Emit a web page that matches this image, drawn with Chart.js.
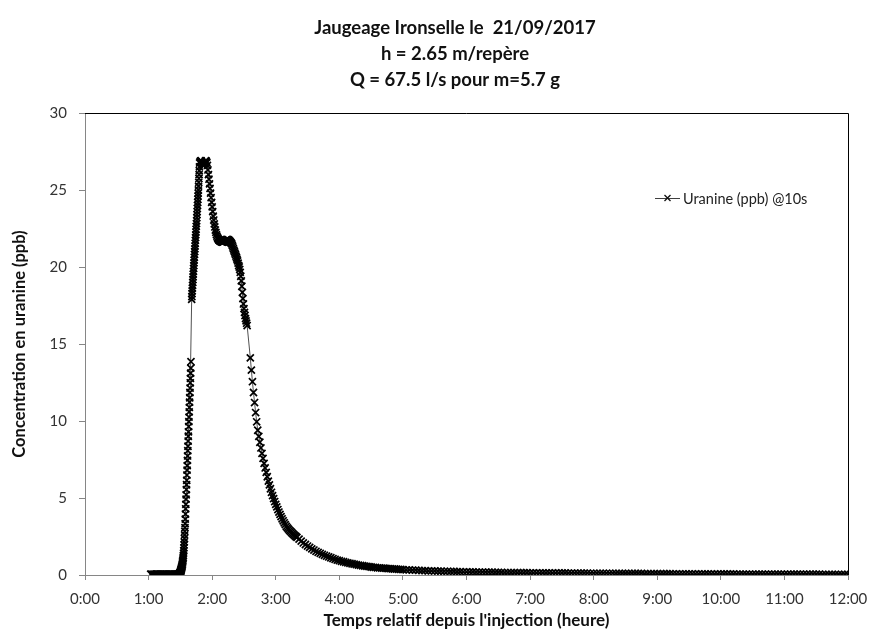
<!DOCTYPE html>
<html>
<head>
<meta charset="utf-8">
<script src="https://cdn.jsdelivr.net/npm/chart.js@4.4.1/dist/chart.umd.min.js"></script>
<style>
  html, body { margin: 0; padding: 0; background: #fff; }
  #wrap { width: 871px; height: 633px; }
</style>
</head>
<body>
<div id="wrap"><canvas id="uranineChart" width="871" height="633"></canvas></div>
<script>
// ----------------- DATA (minutes since injection, ppb) -----------------
const titleLines = ["Jaugeage Ironselle le  21/09/2017", "h = 2.65 m/repère", "Q = 67.5 l/s pour m=5.7 g"];
const seriesLabel = "Uranine (ppb) @10s";
const hourTicks = [0, 60, 120, 180, 240, 300, 360, 420, 480, 540, 600, 660, 720];

// baseline before arrival, 1 min
const baselineStart = 62, baselineStep = 1;
const baselineValues = [0.05,0.05,0.04,0.05,0.05,0.06,0.05,0.05,0.04,0.05,0.05,0.05,0.06,0.05,
  0.05,0.05,0.04,0.05,0.05,0.05,0.06,0.05,0.05,0.05,0.06,0.06,0.07];

// rising limb, 10 s
const riseStart = 89, riseStep = 1 / 6;
const riseValues = [0.08,0.09,0.10,0.12,0.14,0.16,0.19,0.22,0.26,0.30,0.34,0.38,0.43,0.48,0.53,
  0.58,0.64,0.70,0.78,0.86,0.95,1.05,1.15,1.27,1.42,1.58,1.76,1.95,2.15,2.37,2.60,2.84,3.08,3.34,
  3.63,3.96,4.30,4.59,4.93,5.21,5.55,5.86,6.15,6.49,6.81,7.10,7.44,7.73,8.07,8.36,8.70,9.01,9.30,
  9.64,9.96,10.25,10.59,10.88,11.22,11.51,11.85,12.14,12.48,12.77,13.11,13.43,13.85];

// after the first gap, up to the peak, 10 s
const peakRiseStart = 100 + 40 / 60, peakRiseStep = 1 / 6;
const peakRiseValues = [17.90,18.08,18.27,18.45,18.63,18.81,19.00,19.18,19.36,19.54,19.72,19.91,
  20.09,20.27,20.45,20.63,20.82,21.00,21.18,21.36,21.54,21.73,21.91,22.09,22.27,22.45,22.64,22.82,
  23.00,23.20,23.40,23.60,23.80,24.00,24.20,24.40,24.60,24.80,25.00,25.25,25.50,25.75,26.00,26.25,
  26.50,26.75];

// peak and plateau, 30 s
const peakStart = 108.5, peakStep = 0.5;
const peakValues = [26.82,26.88,26.90,26.86,26.76,26.66,26.60,26.62,26.70,26.80,26.87,26.90,26.86,
  26.78,26.60,26.30,26.00,25.70,25.40,25.10,24.80,24.50,24.20,23.90,23.60,23.30,23.05,22.80,22.60,
  22.40,22.25,22.10,22.00,21.90,21.84,21.78,21.74,21.71,21.69,21.67,21.65,21.63,21.62,21.62,21.63,
  21.65,21.68,21.70,21.72,21.75,21.77,21.78,21.78,21.77,21.75,21.72,21.68,21.65,21.60,21.55,21.50,
  21.40,21.30,21.20,21.10,21.00,20.90,20.80,20.70,20.60,20.50,20.40,20.25,20.10,20.00,19.85,19.65,
  19.40,19.10,18.75,18.35,17.95,17.60,17.30,17.05,16.85,16.65,16.50,16.35,16.20];

// falling limb after the second gap, 1 min
const declineStart = 156, declineStep = 1;
const declineValues = [14.10,13.30,12.55,11.85,11.20,10.55,9.95,9.40,9.00,8.62,8.25,7.90,7.57,7.25,
  6.95,6.66,6.38,6.10,5.85,5.60,5.37,5.15,4.96,4.77,4.59,4.42,4.25,4.09,3.94,3.79,3.65,3.52,3.39,
  3.27,3.15,3.06,2.98,2.90,2.83,2.76,2.69,2.62,2.56,2.50,2.44];

// recession, 2 min
const recessionStart = 202, recessionStep = 2;
const recessionValues = [2.33,2.20,2.08,1.98,1.88,1.79,1.70,1.62,1.54,1.47,1.40,1.34,1.28,1.22,
  1.17,1.12,1.07,1.02,0.97,0.93,0.89,0.86,0.82,0.79,0.76,0.73,0.70,0.67,0.64,0.62,0.60,0.58,0.56,
  0.54,0.52,0.50,0.49,0.47,0.46,0.45,0.44,0.43,0.42,0.41,0.40,0.39,0.38,0.37,0.36,0.35];

// long tail, 3 min
const tailStart = 303, tailStep = 3;
const tailValues = [
  0.34,0.33,0.32,0.31,0.30,0.29,0.28,0.27,0.27,0.26,
  0.25,0.25,0.24,0.24,0.23,0.23,0.22,0.22,0.21,0.21,
  0.20,0.20,0.19,0.19,0.19,0.18,0.18,0.18,0.17,0.17,
  0.17,0.16,0.16,0.16,0.16,0.15,0.15,0.15,0.15,0.14,
  0.14,0.14,0.14,0.14,0.13,0.13,0.13,0.13,0.13,0.13,
  0.13,0.12,0.12,0.12,0.12,0.12,0.12,0.12,0.11,0.11,
  0.11,0.11,0.11,0.11,0.11,0.11,0.10,0.10,0.10,0.10,
  0.10,0.10,0.10,0.10,0.10,0.09,0.09,0.09,0.09,0.09,
  0.09,0.09,0.09,0.09,0.08,0.08,0.08,0.08,0.08,0.08,
  0.08,0.08,0.08,0.07,0.07,0.07,0.07,0.07,0.07,0.07,
  0.07,0.07,0.07,0.07,0.06,0.06,0.06,0.06,0.06,0.06,
  0.06,0.06,0.06,0.06,0.06,0.06,0.05,0.05,0.05,0.05,
  0.05,0.05,0.05,0.05,0.05,0.05,0.05,0.05,0.05,0.05,
  0.05,0.04,0.04,0.04,0.04,0.04,0.04,0.04,0.04,0.04];

// ----------------- BUILD POINTS -----------------
const segments = [
  [baselineStart, baselineStep, baselineValues],
  [riseStart, riseStep, riseValues],
  [peakRiseStart, peakRiseStep, peakRiseValues],
  [peakStart, peakStep, peakValues],
  [declineStart, declineStep, declineValues],
  [recessionStart, recessionStep, recessionValues],
  [tailStart, tailStep, tailValues]
];
const points = [];
segments.forEach(([start, step, values]) => {
  values.forEach((v, i) => points.push({ x: start + i * step, y: v }));
});

const FONT = "Lato, 'Open Sans', sans-serif";
const AXIS_GREY = "#868686";

// title, legend inside the plot area, and the plot frame on top/right
const decorPlugin = {
  id: "decor",
  afterDatasetsDraw(chart) {
    const { ctx, chartArea: a } = chart;
    ctx.save();
    ctx.strokeStyle = "#000";
    ctx.lineWidth = 1;
    ctx.beginPath();
    ctx.moveTo(a.left, a.top + 0.5);
    ctx.lineTo(a.right + 0.5, a.top + 0.5);
    ctx.lineTo(a.right + 0.5, a.bottom);
    ctx.stroke();

    // title
    ctx.fillStyle = "#111";
    ctx.font = "bold 18.5px " + FONT;
    ctx.textAlign = "center";
    ctx.textBaseline = "middle";
    titleLines.forEach((t, i) => ctx.fillText(t, 455, 28 + i * 26));

    // legend
    const ly = a.top + 85;
    const lx = a.right - 193;
    ctx.strokeStyle = "#404040";
    ctx.lineWidth = 1;
    ctx.beginPath();
    ctx.moveTo(lx, ly + 0.5);
    ctx.lineTo(lx + 25, ly + 0.5);
    ctx.stroke();
    ctx.strokeStyle = "#111";
    ctx.lineWidth = 1.3;
    const r = 3, cx = lx + 12.5;
    ctx.beginPath();
    ctx.moveTo(cx - r, ly - r); ctx.lineTo(cx + r, ly + r);
    ctx.moveTo(cx - r, ly + r); ctx.lineTo(cx + r, ly - r);
    ctx.stroke();
    ctx.fillStyle = "#222";
    ctx.font = "14.5px " + FONT;
    ctx.textBaseline = "middle";
    ctx.textAlign = "left";
    ctx.fillText(seriesLabel, lx + 28, ly + 1);
    ctx.restore();
  }
};

const ctx = document.getElementById("uranineChart").getContext("2d");
const uranineChart = new Chart(ctx, {
  type: "line",
  data: {
    datasets: [{
      label: seriesLabel,
      data: points,
      borderColor: "#505050",
      borderWidth: 1,
      pointStyle: "crossRot",
      pointRadius: 5,
      pointBorderColor: "#000",
      pointBorderWidth: 1.7,
      pointHoverRadius: 5,
      tension: 0,
      fill: false
    }]
  },
  options: {
    responsive: false,
    animation: false,
    layout: { padding: { left: 0, right: 23, top: 113, bottom: 0 } },
    plugins: {
      legend: { display: false },
      tooltip: { enabled: false },
      title: { display: false }
    },
    scales: {
      x: {
        type: "linear",
        min: 0,
        max: 720,
        afterFit: (scale) => {
          scale.height = 58;
          scale.paddingLeft = 0;
          scale.paddingRight = 0;
        },
        afterBuildTicks: (scale) => { scale.ticks = hourTicks.map(v => ({ value: v })); },
        ticks: {
          color: "#333",
          font: { family: FONT, size: 15 },
          padding: 10,
          maxRotation: 0,
          autoSkip: false,
          callback: (v) => (v / 60) + ":00"
        },
        grid: { drawOnChartArea: false, drawTicks: true, tickLength: 5, color: AXIS_GREY },
        border: { color: AXIS_GREY, width: 1 },
        title: {
          display: true,
          text: "Temps relatif depuis l'injection (heure)",
          color: "#111",
          font: { family: FONT, size: 17, weight: "bold" },
          padding: { top: 0, bottom: 2 }
        }
      },
      y: {
        min: 0,
        max: 30,
        afterFit: (scale) => {
          scale.width = 85;
          scale.paddingTop = 0;
          scale.paddingBottom = 0;
        },
        ticks: {
          stepSize: 5,
          color: "#333",
          font: { family: FONT, size: 15 },
          padding: 12
        },
        grid: { drawOnChartArea: false, drawTicks: true, tickLength: 6, color: AXIS_GREY },
        border: { color: AXIS_GREY, width: 1 },
        title: {
          display: true,
          text: "Concentration en uranine (ppb)",
          color: "#111",
          font: { family: FONT, size: 16.5, weight: "bold" },
          padding: { top: 10, bottom: 0 }
        }
      }
    }
  },
  plugins: [decorPlugin]
});
</script>
</body>
</html>
